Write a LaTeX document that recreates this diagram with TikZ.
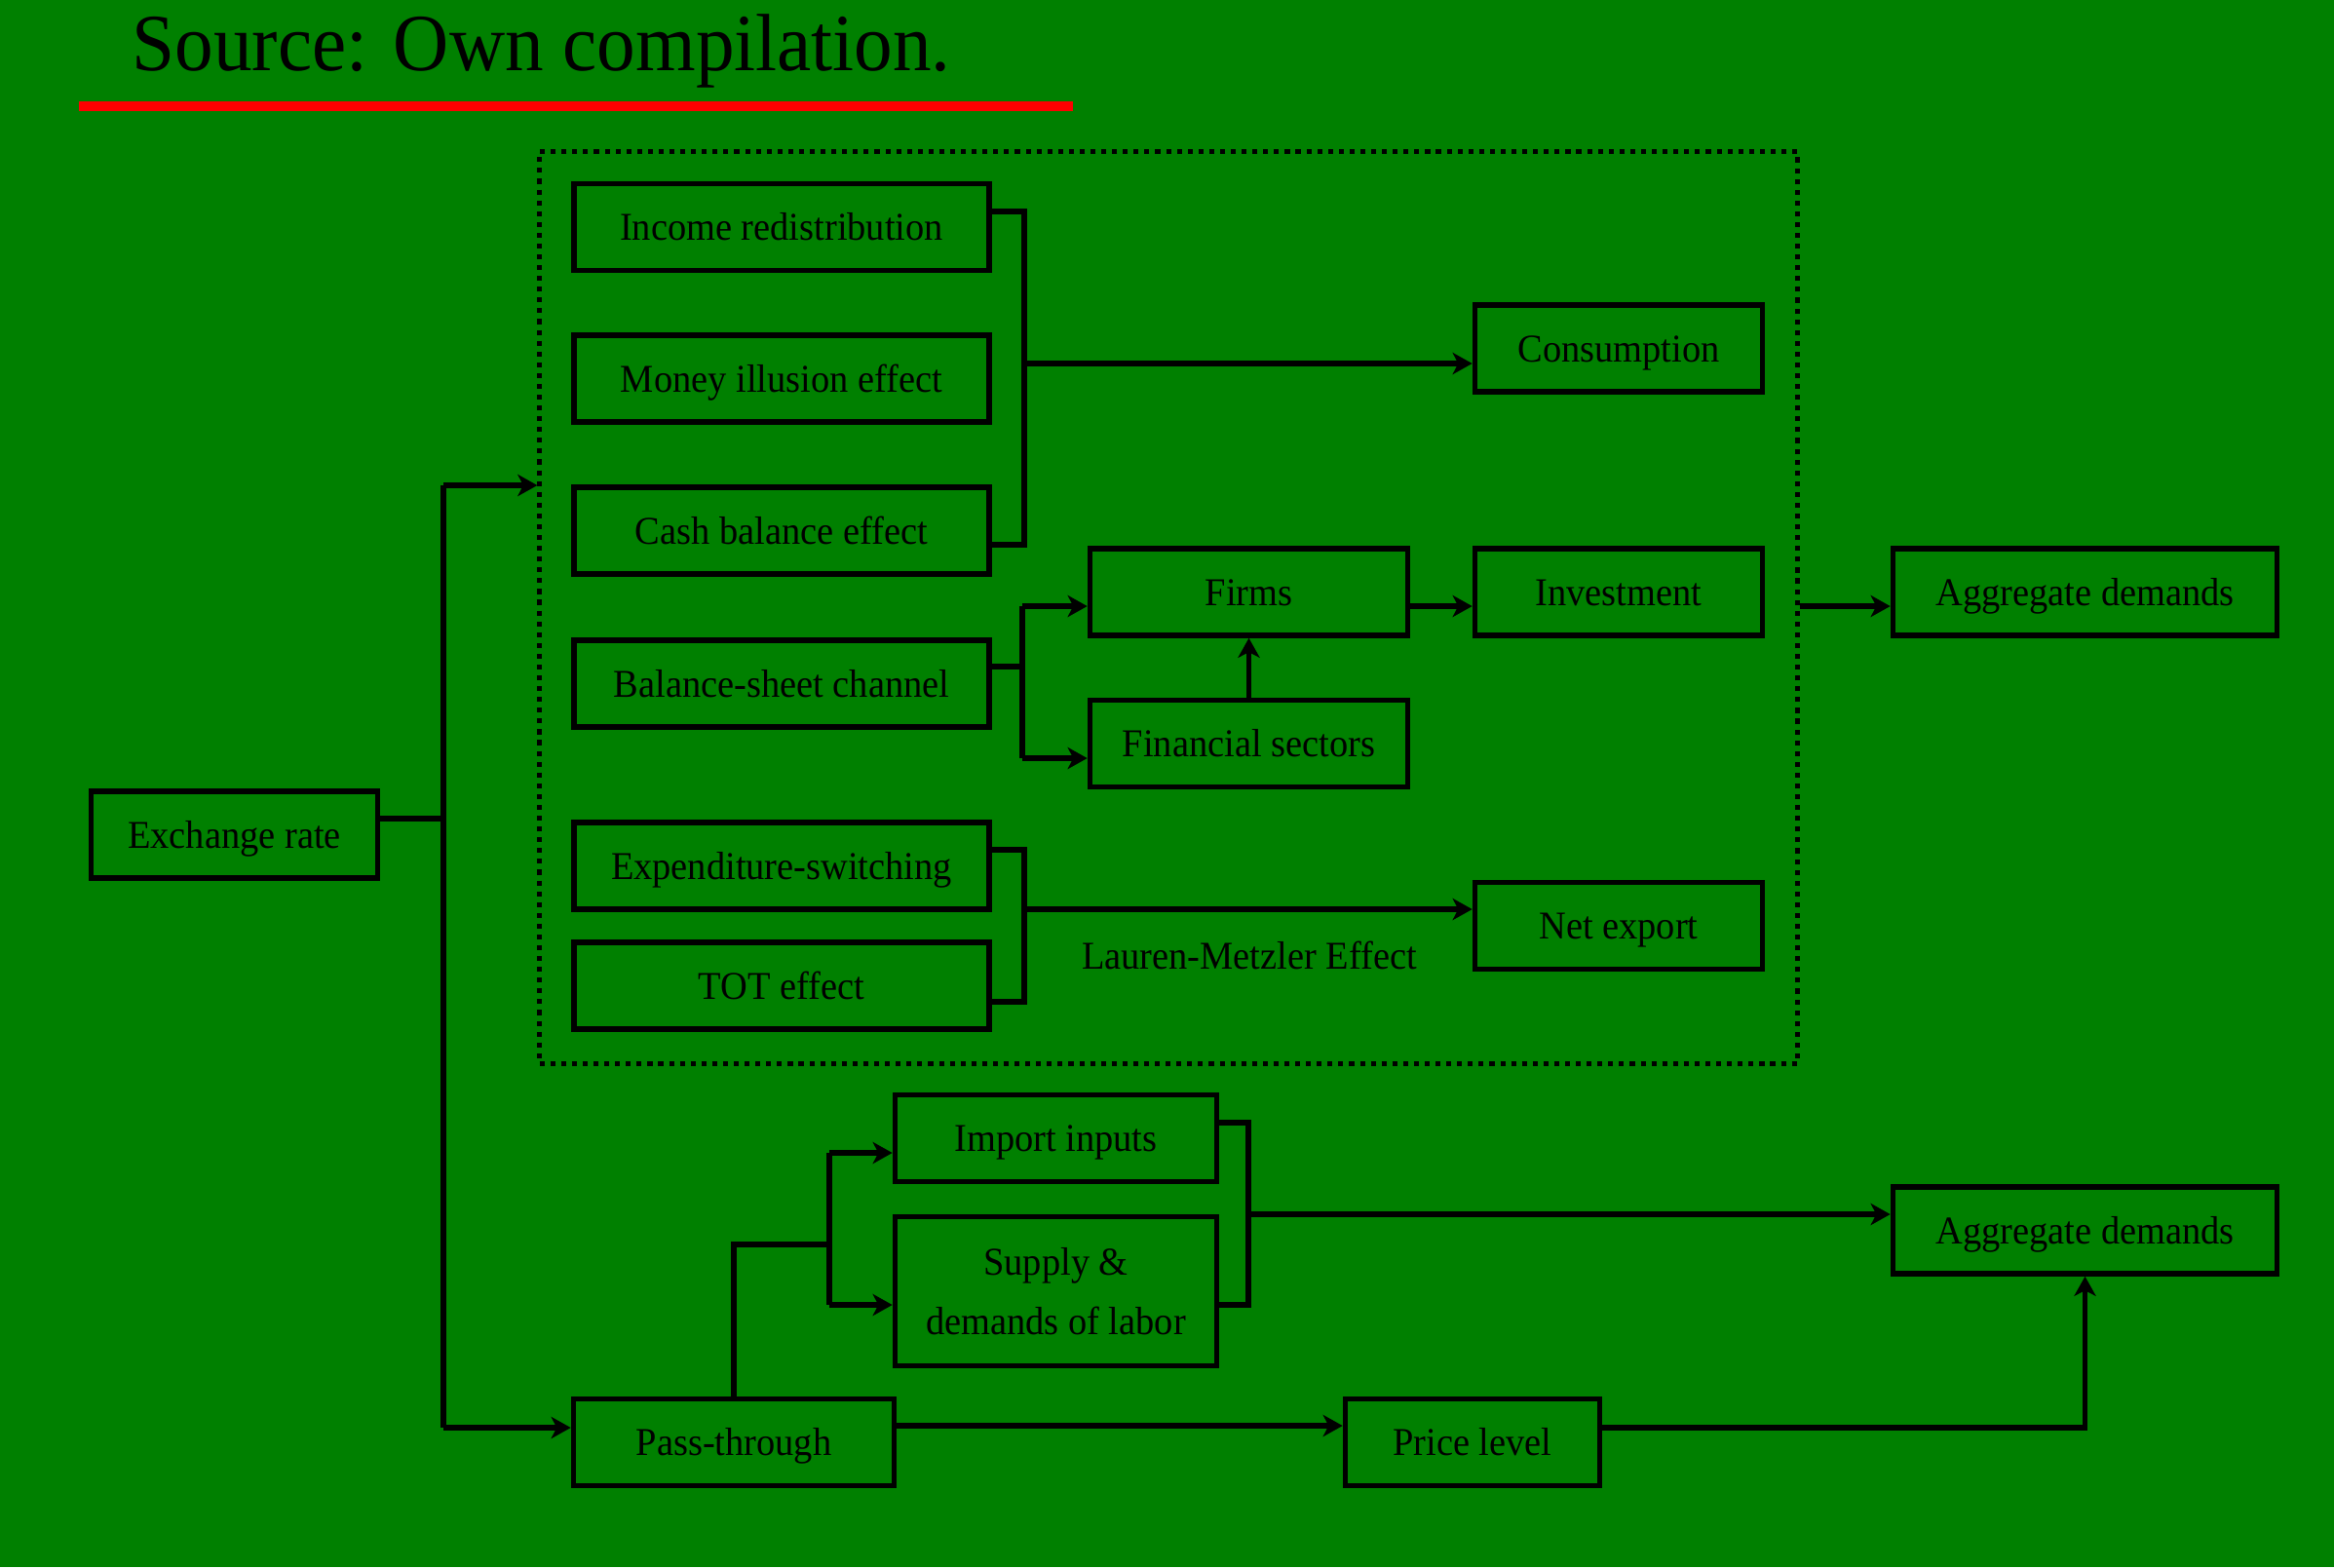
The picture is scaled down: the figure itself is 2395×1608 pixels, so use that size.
\documentclass[tikz,border=0pt]{standalone}
\usepackage{fontspec}
\setmainfont[FakeStretch=0.95]{Liberation Serif}
\usetikzlibrary{arrows.meta}
\definecolor{bggreen}{HTML}{008000}
\definecolor{redline}{HTML}{FF0000}
\begin{document}
\begin{tikzpicture}[x=0.01cm,y=-0.01cm,
  lw/.style={line width=1.55pt},
  box/.style={draw=black,lw,fill=none,inner sep=0pt,font=\fontsize{11.5pt}{17.4pt}\selectfont,
    text height=0.82em,text depth=0.04em,minimum height=0.89cm},
  lbox/.style={box,minimum width=4.26cm},
  conn/.style={draw=black,lw,line join=miter},
  arr/.style={conn,-{Stealth[length=5.7pt,width=6.3pt,inset=1.6pt]}},
  dotbox/.style={draw=black,line width=1.3pt,dash pattern=on 1.45pt off 1.7pt,inner sep=0pt},
  lbl/.style={inner sep=0pt,font=\fontsize{11.5pt}{14pt}\selectfont}]
\fill[bggreen] (0,0) rectangle (2395,1608);
\useasboundingbox (0,0) rectangle (2395,1608);
% title
\node[anchor=base west,inner sep=0pt,font=\fontsize{23.7pt}{28pt}\selectfont] (title) at (135,72) {Source: Own compilation.};
\coordinate (ul1) at (81,109);
\coordinate (ul2) at (1101,109);
\draw[redline,line width=3.1pt] (ul1) -- (ul2);
% group
\node[dotbox,minimum width=12.9cm,minimum height=9.35cm] (grp) at (1199,623.5) {};
% left boxes
\node[lbox] (inc) at (802,233) {Income redistribution};
\node[lbox] (mon) at (802,388.5) {Money illusion effect};
\node[lbox] (cash) at (802,544.5) {Cash balance effect};
\node[lbox] (bal) at (802,701.5) {Balance-sheet channel};
\node[lbox] (exp) at (802,888.5) {Expenditure-switching};
\node[lbox] (tot) at (802,1011.5) {TOT effect};
% middle/right
\node[box,minimum width=2.95cm] (cons) at (1661,357.5) {Consumption};
\node[box,minimum width=3.26cm] (firms) at (1281.5,607.5) {Firms};
\node[box,minimum width=3.26cm] (fin) at (1281.5,763) {Financial sectors};
\node[box,minimum width=2.95cm] (inv) at (1661,607.5) {Investment};
\node[box,minimum width=3.94cm] (agg1) at (2139.5,607.5) {Aggregate demands};
\node[box,minimum width=2.95cm] (net) at (1661,950) {Net export};
\node[lbl] (lm) at (1282,980) {Lauren-Metzler Effect};
% lower
\node[box,minimum width=2.94cm] (ex) at (240.5,856.5) {Exchange rate};
\node[box,minimum width=3.29cm] (pass) at (753,1480) {Pass-through};
\node[box,minimum width=2.61cm] (price) at (1511,1480) {Price level};
\node[box,minimum width=3.3cm] (imp) at (1083.5,1168) {Import inputs};
\node[box,minimum width=3.3cm,minimum height=1.53cm,text height=,text depth=,align=center] (sup) at (1083.5,1325) {Supply \&\\demands of labor};
\node[box,minimum width=3.94cm] (agg2) at (2139.5,1262.5) {Aggregate demands};
% bracket 1
\coordinate (b1t) at (1051,217);
\coordinate (b1b) at (1051,559);
\coordinate (b1m) at (1051,373);
\draw[conn] (inc.east |- b1t) -- (b1t) -- (b1b) -- (cash.east |- b1b);
\draw[arr] (b1m) -- (b1m -| cons.west);
% balance sheet
\coordinate (b2s) at (1049,684);
\coordinate (b2t) at (1049,622);
\coordinate (b2b) at (1049,778);
\draw[conn] (bal.east |- b2s) -- (b2s);
\draw[conn] (b2t) -- (b2b);
\draw[arr] (b2t) -- (b2t -| firms.west);
\draw[arr] (b2b) -- (b2b -| fin.west);
\draw[arr] (fin.north) -- (firms.south);
\draw[arr] (firms.east |- b2t) -- (inv.west |- b2t);
\draw[arr] (grp.east |- b2t) -- (agg1.west |- b2t);
% exp/tot
\coordinate (b3t) at (1051,872);
\coordinate (b3b) at (1051,1028);
\coordinate (b3m) at (1051,933);
\draw[conn] (exp.east |- b3t) -- (b3t) -- (b3b) -- (tot.east |- b3b);
\draw[arr] (b3m) -- (b3m -| net.west);
% exchange trunk
\coordinate (trs) at (455,840);
\coordinate (trt) at (455,498);
\coordinate (trb) at (455,1465);
\draw[conn] (ex.east |- trs) -- (trs);
\draw[conn] (trt) -- (trb);
\draw[arr] (trt) -- (trt -| grp.west);
\draw[arr] (trb) -- (trb -| pass.west);
% pass-through
\coordinate (pp) at (0,1463);
\draw[arr] (pass.east |- pp) -- (price.west |- pp);
\coordinate (pr) at (0,1465);
\draw[arr] (price.east |- pr) -| (agg2.south);
\coordinate (pu1) at (753,1277);
\coordinate (pu2) at (851,1277);
\coordinate (pvt) at (851,1183);
\coordinate (pvb) at (851,1339);
\draw[conn] (pass.north -| pu1) -- (pu1) -- (pu2);
\draw[conn] (pvt) -- (pvb);
\draw[arr] (pvt) -- (pvt -| imp.west);
\draw[arr] (pvb) -- (pvb -| sup.west);
% right bracket
\coordinate (b4t) at (1281,1152);
\coordinate (b4b) at (1281,1339);
\coordinate (b4m) at (1281,1246);
\draw[conn] (imp.east |- b4t) -- (b4t) -- (b4b) -- (sup.east |- b4b);
\draw[arr] (b4m) -- (b4m -| agg2.west);
\end{tikzpicture}
\end{document}
